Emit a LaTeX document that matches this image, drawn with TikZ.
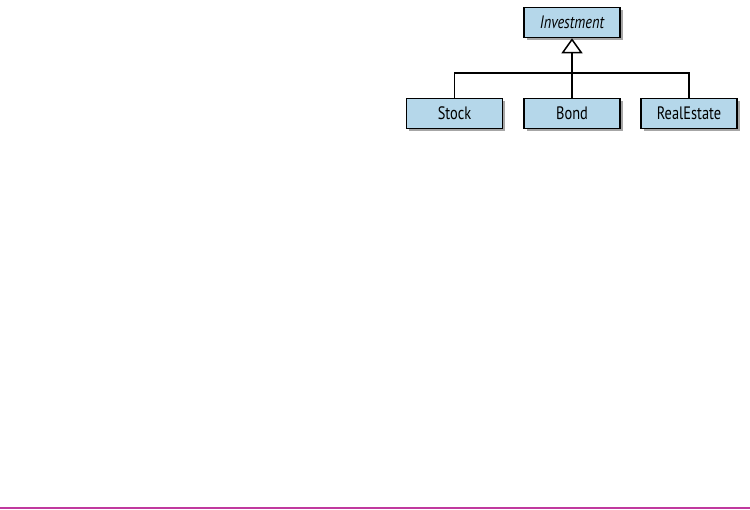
\documentclass[tikz,border=0pt]{standalone}
\usepackage{fontspec}
\setmainfont[FakeStretch=0.8]{PT Sans}
\usetikzlibrary{arrows.meta,shadows}
\definecolor{boxblue}{HTML}{B5D7EA}
\definecolor{rule}{HTML}{C0399E}
\tikzset{
  cls/.style={draw=black, line width=1.5pt, fill=boxblue, minimum width=96pt, minimum height=30pt,
    inner sep=0pt, font=\fontsize{18}{20}\selectfont,
    drop shadow={shadow xshift=2.5pt, shadow yshift=-2.5pt, fill=black, opacity=0.35}},
  link/.style={line width=1.6pt, draw=black},
}
\begin{document}
\begin{tikzpicture}[x=1pt,y=-1pt]
\useasboundingbox (0,0) rectangle (750,509);
\node[cls] (inv) at (572,22.5) {\itshape Investment};
\node[cls] (stock) at (454.5,113.5) {Stock};
\node[cls] (bond) at (572,113.5) {Bond};
\node[cls] (re) at (689,113.5) {RealEstate};
\coordinate (j) at (572,73);
\draw[link] (stock.north) |- (j) -| (re.north);
\draw[link] (bond.north) -- (j);
\draw[link, -{Triangle[open, width=21pt, length=15pt, line width=1.5pt]}] (j) -- (inv.south);
\draw[rule, line width=1.2pt] (0,508) -- (750,508);
\end{tikzpicture}
\end{document}
